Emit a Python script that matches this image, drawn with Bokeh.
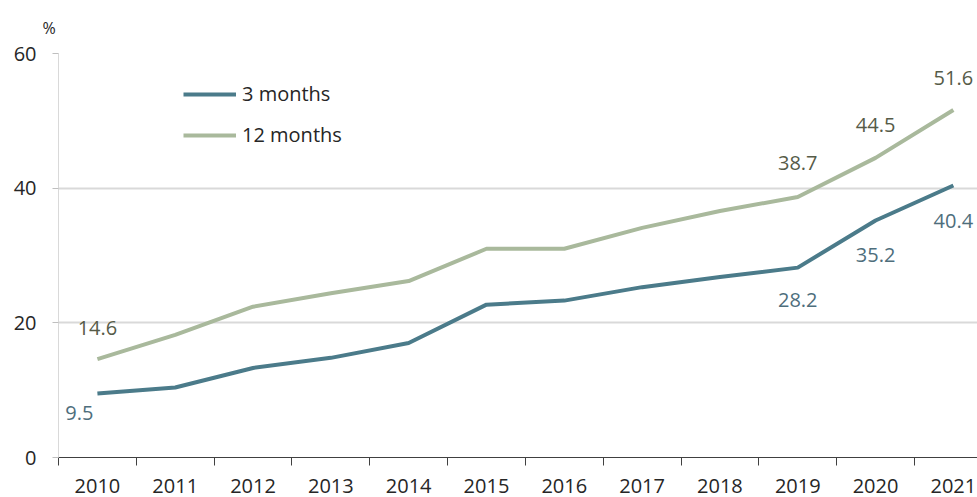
from bokeh.plotting import figure
from bokeh.models import Range1d, FixedTicker, Legend, LegendItem, Title, ColumnDataSource
from bokeh.core.properties import value
from bokeh.embed import file_html
from bokeh.resources import INLINE

# ---- data ----
years = [2010, 2011, 2012, 2013, 2014, 2015, 2016, 2017, 2018, 2019, 2020, 2021]
three_months = [9.5, 10.4, 13.3, 14.8, 17.0, 22.7, 23.3, 25.3, 26.8, 28.2, 35.2, 40.4]
twelve_months = [14.6, 18.2, 22.4, 24.4, 26.2, 31.0, 31.0, 34.1, 36.6, 38.7, 44.5, 51.6]
label_years = [2010, 2019, 2020, 2021]
y_ticks = [0, 20, 40, 60]
series_names = ["3 months", "12 months"]
unit_text = "%"

# ---- style ----
FONT = "Open Sans"
C3 = "#4b7b8a"
C12 = "#a9b99c"
C3_TXT = "#4e6e7c"
C12_TXT = "#565b48"
TXT = "#262626"

p = figure(width=977, height=497, output_backend="svg", toolbar_location=None,
           x_range=Range1d(2009.5, 2021.31), y_range=Range1d(0, 60),
           min_border_left=58, min_border_right=0, min_border_top=52, min_border_bottom=40)
p.outline_line_color = None
p.background_fill_color = "white"
p.border_fill_color = "white"

# unit label above the frame
p.add_layout(Title(text=unit_text, align="left", offset=-16, text_font=FONT,
                   text_font_size="16px", text_font_style="normal",
                   text_color=TXT, standoff=29), "above")

# axes
xa = p.xaxis[0]
xa.ticker = FixedTicker(ticks=years, minor_ticks=[y + 0.5 for y in [years[0] - 1] + years])
xa.major_tick_out = 0
xa.major_tick_in = 0
xa.minor_tick_out = 8
xa.minor_tick_in = 0
xa.minor_tick_line_color = "#404040"
xa.axis_line_color = "#404040"
xa.major_label_text_font = FONT
xa.major_label_text_font_size = "20px"
xa.major_label_text_color = TXT
xa.major_label_standoff = 13

ya = p.yaxis[0]
ya.ticker = FixedTicker(ticks=y_ticks, minor_ticks=[])
ya.axis_line_color = "#d9d9d9"
ya.major_tick_out = 6
ya.major_tick_in = 0
ya.major_tick_line_color = "#bfbfbf"
ya.minor_tick_line_color = None
ya.major_label_text_font = FONT
ya.major_label_text_font_size = "20px"
ya.major_label_text_color = TXT
ya.major_label_standoff = 16

p.xgrid.grid_line_color = None
p.ygrid.grid_line_color = "#d9d9d9"
p.ygrid.grid_line_width = 2

# lines
r12 = p.line(years, twelve_months, line_color=C12, line_width=4)
r3 = p.line(years, three_months, line_color=C3, line_width=4)

# data labels
idx = [years.index(y) for y in label_years]
src3 = ColumnDataSource(dict(x=label_years, y=[three_months[i] for i in idx],
                             t=[f"{three_months[i]:.1f}" for i in idx],
                             dx=[-18, 0, 0, 0], dy=[19, 32, 35, 36]))
src12 = ColumnDataSource(dict(x=label_years, y=[twelve_months[i] for i in idx],
                              t=[f"{twelve_months[i]:.1f}" for i in idx],
                              dx=[0, 0, 0, 0], dy=[-31, -34, -33, -32]))
for src, col in [(src3, C3_TXT), (src12, C12_TXT)]:
    p.text(x="x", y="y", text="t", source=src, x_offset="dx", y_offset="dy",
           text_font=value(FONT), text_font_size="20px", text_color=col,
           text_align="center", text_baseline="middle")

# legend
legend = Legend(items=[LegendItem(label=series_names[0], renderers=[r3]),
                       LegendItem(label=series_names[1], renderers=[r12])],
                location=(125, 309), orientation="vertical")
legend.glyph_width = 53
legend.glyph_height = 20
legend.spacing = 14
legend.padding = 0
legend.margin = 0
legend.label_standoff = 6
legend.border_line_color = None
legend.background_fill_alpha = 0
legend.label_text_font = FONT
legend.label_text_font_size = "20px"
legend.label_text_color = TXT
p.add_layout(legend, "center")

open("out.html", "w").write(file_html(p, INLINE))
